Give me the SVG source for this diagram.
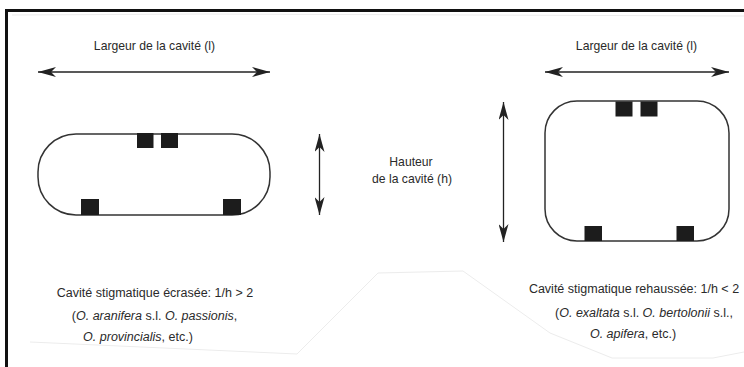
<svg xmlns="http://www.w3.org/2000/svg" width="744" height="367" viewBox="0 0 744 367">
  <style>
    .lbl { font-family: "Liberation Sans", Arial, sans-serif; fill: #2a2a2a; text-anchor: middle; }
    .top { font-size: 12.2px; }
    .cap { font-size: 12.5px; }
    .it { font-style: italic; }
    .box { fill: none; stroke: #333; stroke-width: 1.5; }
    .pad { fill: #1c1c1c; }
    .arr { stroke: #222; stroke-width: 1.3; fill: none; marker-start: url(#head); marker-end: url(#head); }
    .edge { fill: none; stroke: #ececec; stroke-width: 1; }
  </style>
  <defs>
    <marker id="head" viewBox="0 0 18 10" refX="18" refY="5" markerWidth="18" markerHeight="10" markerUnits="userSpaceOnUse" orient="auto-start-reverse">
      <path d="M0,0 L18,5 L0,10 L5,5 Z" fill="#222"/>
    </marker>
  </defs>
  <rect width="744" height="367" fill="#fff"/>

  <g id="paper-edges">
    <polyline class="edge" points="12,15 200,14 744,16"/>
    <polyline class="edge" points="30,342 297,354 378,273 463,271 550,333 612,358 713,358 744,352"/>
  </g>

  <g id="frame">
    <line x1="5" y1="10.5" x2="744" y2="10.5" stroke="#111" stroke-width="3"/>
    <line x1="6.5" y1="9" x2="6.5" y2="367" stroke="#111" stroke-width="3"/>
  </g>

  <g id="connectors">
    <line class="arr" x1="38" y1="72" x2="270" y2="72"/>
    <line class="arr" x1="545" y1="72" x2="729" y2="72"/>
    <line class="arr" x1="319.5" y1="134" x2="319.5" y2="215"/>
    <line class="arr" x1="503.5" y1="102" x2="503.5" y2="242"/>
  </g>

  <g id="label-width-left">
    <text class="lbl top" x="154.5" y="50">Largeur de la cavité (l)</text>
  </g>
  <g id="label-width-right">
    <text class="lbl top" x="636.5" y="50">Largeur de la cavité (l)</text>
  </g>
  <g id="label-height">
    <text class="lbl top" x="411" y="166">Hauteur</text>
    <text class="lbl top" x="412" y="183">de la cavité (h)</text>
  </g>

  <g id="cavity-flat">
    <rect class="box" x="38" y="134" width="232" height="81" rx="38" ry="38"/>
    <rect class="pad" x="137" y="133" width="16.5" height="15"/>
    <rect class="pad" x="161" y="133" width="17" height="15"/>
    <rect class="pad" x="81" y="199" width="18" height="16"/>
    <rect class="pad" x="223" y="199" width="18" height="16"/>
  </g>

  <g id="cavity-tall">
    <rect class="box" x="545" y="101" width="184" height="140" rx="32" ry="32"/>
    <rect class="pad" x="615.5" y="101.5" width="17" height="15"/>
    <rect class="pad" x="640.5" y="101.5" width="17" height="15"/>
    <rect class="pad" x="584.5" y="226" width="17.5" height="15"/>
    <rect class="pad" x="676.5" y="226" width="17.5" height="15"/>
  </g>

  <g id="caption-flat">
    <text class="lbl cap" x="155" y="297">Cavité stigmatique écrasée: 1/h &gt; 2</text>
    <text class="lbl cap" x="154.5" y="320">(<tspan class="it">O. aranifera</tspan> s.l. <tspan class="it">O. passionis</tspan>,</text>
    <text class="lbl cap" x="138" y="341"><tspan class="it">O. provincialis</tspan>, etc.)</text>
  </g>

  <g id="caption-tall">
    <text class="lbl cap" x="634" y="293">Cavité stigmatique rehaussée: 1/h &lt; 2</text>
    <text class="lbl cap" x="644" y="317">(<tspan class="it">O. exaltata</tspan> s.l. <tspan class="it">O. bertolonii</tspan> s.l.,</text>
    <text class="lbl cap" x="633" y="338"><tspan class="it">O. apifera</tspan>, etc.)</text>
  </g>
</svg>
